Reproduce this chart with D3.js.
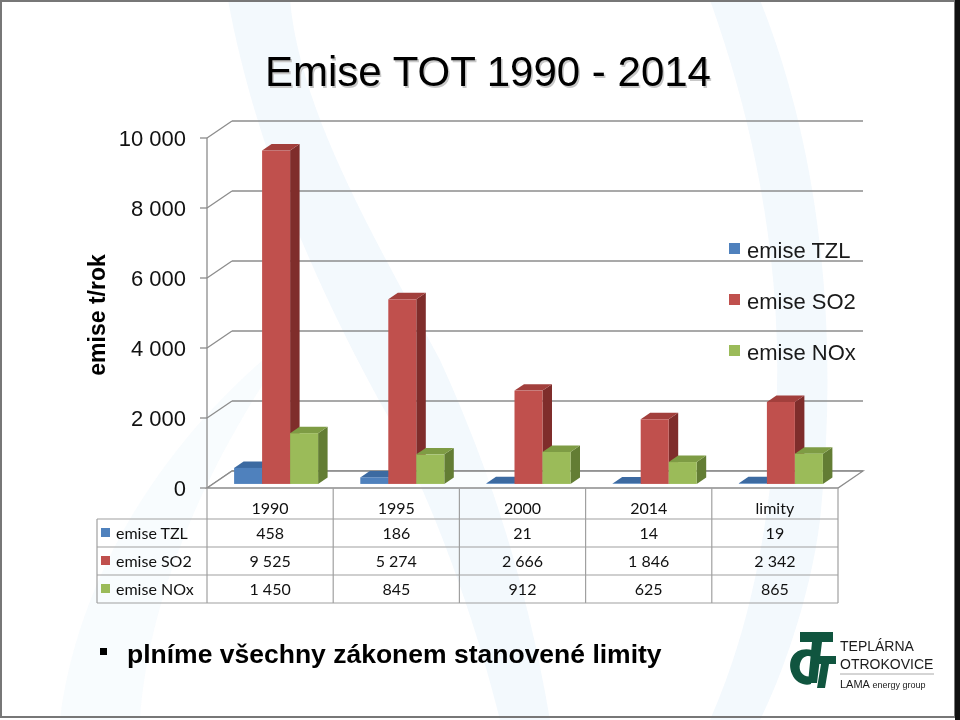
<!DOCTYPE html>
<html>
<head>
<meta charset="utf-8">
<script src="https://cdn.jsdelivr.net/npm/d3@7"></script>
<style>
  body { margin: 0; background: #fff; }
  svg { display: block; }
</style>
</head>
<body>
<div id="chart"></div>
<script>
// data
const categories = ['1990', '1995', '2000', '2014', 'limity'];
const seriesNames = ['emise TZL', 'emise SO2', 'emise NOx'];
const tzl = [458, 186, 21, 14, 19];
const so2 = [9525, 5274, 2666, 1846, 2342];
const nox = [1450, 845, 912, 625, 865];
const yTicks = [0, 2000, 4000, 6000, 8000, 10000];

const seriesValues = [tzl, so2, nox];
const faceColors = ['#4f81bd', '#c0504d', '#9bbb59'];
const topColors = ['#3c6aa1', '#a23f3c', '#7e9c44'];
const sideColors = ['#2f5582', '#7f2d2b', '#637d34'];

const W = 960, H = 720;
const svg = d3.select('#chart').append('svg').attr('width', W).attr('height', H);

const fmt = v => d3.format(',')(v).replace(/,/g, ' ');
const font = '"Liberation Sans", Arial, sans-serif';
const tableFont = 'Lato, "Open Sans", sans-serif';

// faint background swooshes
const bg = svg.append('g').attr('fill', '#eef6fc').attr('opacity', 0.7);
bg.append('path').attr('d', 'M228,0 C250,120 300,260 390,420 C430,500 470,600 500,720 L550,720 C530,600 495,480 440,360 C370,230 300,110 290,0 Z');
bg.append('path').attr('d', 'M760,0 C820,150 840,330 820,520 C810,600 780,680 760,720 L710,720 C745,640 762,560 772,470 C790,300 760,140 710,0 Z');
bg.append('path').attr('d', 'M60,720 C80,560 180,420 300,330 C220,440 150,580 140,720 Z').attr('opacity', 0.6);

// slide frame
svg.append('rect').attr('x', 1).attr('y', 1).attr('width', W - 6).attr('height', H - 4)
    .attr('fill', 'none').attr('stroke', '#777').attr('stroke-width', 2);
svg.append('rect').attr('x', 955).attr('y', 0).attr('width', 5).attr('height', H).attr('fill', '#111');

// title
svg.append('text').attr('x', 488).attr('y', 86).attr('text-anchor', 'middle')
    .attr('font-family', font).attr('font-size', 42).attr('fill', '#c8c8c8')
    .attr('transform', 'translate(1.5,1.5)').text('Emise TOT 1990 - 2014');
svg.append('text').attr('x', 488).attr('y', 86).attr('text-anchor', 'middle')
    .attr('font-family', font).attr('font-size', 42).attr('fill', '#000')
    .text('Emise TOT 1990 - 2014');

// 3D geometry
const x0 = 207, x1 = 838;
const DX = 25, DY = -17; // depth offset of back wall
const x = d3.scaleBand().domain(categories).range([x0, x1]);
const y = d3.scaleLinear().domain([0, 10000]).range([488, 138]);

const g = svg.append('g');
const grid = '#8c8c8c';

// back wall gridlines + side wall diagonals
yTicks.forEach(t => {
  const yy = y(t);
  g.append('line').attr('x1', x0).attr('y1', yy).attr('x2', x0 + DX).attr('y2', yy + DY)
      .attr('stroke', grid).attr('stroke-width', 1.3);
  g.append('line').attr('x1', x0 + DX).attr('y1', yy + DY).attr('x2', x1 + DX).attr('y2', yy + DY)
      .attr('stroke', grid).attr('stroke-width', 1.3);
  g.append('line').attr('x1', x0 - 7).attr('y1', yy).attr('x2', x0).attr('y2', yy)
      .attr('stroke', grid).attr('stroke-width', 1.3);
  g.append('text').attr('x', 186).attr('y', yy + 8).attr('text-anchor', 'end')
      .attr('font-family', font).attr('font-size', 22).attr('fill', '#111').text(fmt(t));
});
// front vertical axis
g.append('line').attr('x1', x0).attr('y1', y(10000)).attr('x2', x0).attr('y2', y(0))
    .attr('stroke', grid).attr('stroke-width', 1.3);
// floor
g.append('path')
    .attr('d', `M${x0},${y(0)} L${x1},${y(0)} L${x1 + DX},${y(0) + DY} L${x0 + DX},${y(0) + DY} Z`)
    .attr('fill', 'rgba(255,255,255,0.6)').attr('stroke', grid).attr('stroke-width', 1.3);

// axis title
svg.append('text').attr('transform', 'translate(105,315) rotate(-90)')
    .attr('text-anchor', 'middle').attr('font-family', font).attr('font-size', 23)
    .attr('font-weight', 'bold').attr('fill', '#000').text('emise t/rok');

// bars
const f0 = 0.24, f1 = 0.62; // bar depth position inside floor
const barW = 28;
const bx = d3.scaleBand().domain(d3.range(3)).range([0, barW * 3]);
const bars = [];
categories.forEach((c, ci) => {
  seriesValues.forEach((vals, si) => {
    bars.push({ c, si, v: vals[ci] });
  });
});
const ox = DX * f0, oy = DY * f0;           // front face offset
const ddx = DX * (f1 - f0), ddy = DY * (f1 - f0); // bar depth
bars.forEach(b => {
  const left = x(b.c) + (x.bandwidth() - barW * 3) / 2 + bx(b.si) + ox;
  const right = left + barW;
  const top = y(b.v) + oy, bottom = y(0) + oy;
  const bar = g.append('g');
  bar.append('path')
      .attr('d', `M${right},${bottom} L${right + ddx},${bottom + ddy} L${right + ddx},${top + ddy} L${right},${top} Z`)
      .attr('fill', sideColors[b.si]);
  bar.append('path')
      .attr('d', `M${left},${top} L${left + ddx},${top + ddy} L${right + ddx},${top + ddy} L${right},${top} Z`)
      .attr('fill', topColors[b.si]);
  bar.append('rect').attr('x', left).attr('y', top).attr('width', barW)
      .attr('height', Math.max(0, bottom - top)).attr('fill', faceColors[b.si]);
});

// legend
seriesNames.forEach((n, i) => {
  const ly = [250, 301, 352][i];
  svg.append('rect').attr('x', 729).attr('y', ly - 7).attr('width', 11).attr('height', 11)
      .attr('fill', faceColors[i]);
  svg.append('text').attr('x', 747).attr('y', ly + 8).attr('font-family', font)
      .attr('font-size', 22).attr('fill', '#1a1a1a').text(n);
});

// data table
const tg = svg.append('g').attr('font-family', tableFont).attr('font-size', 16).attr('fill', '#111');
const tLeft = 97, rowH = 28, hdrTop = 488, hdrBot = 519;
const tLine = (a, b, c, d) => tg.append('line').attr('x1', a).attr('y1', b).attr('x2', c).attr('y2', d)
    .attr('stroke', '#a0a0a0').attr('stroke-width', 1.2);
categories.forEach(c => {
  tg.append('text').attr('x', x(c) + x.bandwidth() / 2).attr('y', 514).attr('text-anchor', 'middle').text(c);
});
const tBottom = hdrBot + rowH * 3;
tLine(tLeft, hdrBot, x1, hdrBot);
d3.range(1, 4).forEach(r => tLine(tLeft, hdrBot + rowH * r, x1, hdrBot + rowH * r));
tLine(tLeft, hdrBot, tLeft, tBottom);
categories.forEach(c => tLine(x(c), hdrTop, x(c), tBottom));
tLine(x1, hdrTop, x1, tBottom);
seriesNames.forEach((n, si) => {
  const ry = hdrBot + rowH * si + rowH / 2;
  tg.append('rect').attr('x', 101).attr('y', ry - 5).attr('width', 9).attr('height', 9).attr('fill', faceColors[si]);
  tg.append('text').attr('x', 116).attr('y', ry + 6).text(n);
  categories.forEach((c, ci) => {
    tg.append('text').attr('x', x(c) + x.bandwidth() / 2).attr('y', ry + 6)
        .attr('text-anchor', 'middle').text(fmt(seriesValues[si][ci]));
  });
});

// bullet text
svg.append('rect').attr('x', 100).attr('y', 648).attr('width', 7).attr('height', 7).attr('fill', '#000');
svg.append('text').attr('x', 127).attr('y', 663).attr('font-family', font).attr('font-size', 26.5)
    .attr('font-weight', 'bold').attr('fill', '#000').text('plníme všechny zákonem stanovené limity');

// logo
const logo = svg.append('g').attr('fill', '#10553f');
logo.append('path').attr('d', 'M800,632 L833,632 L833,642 L822,642 L817,683 L808,683 L812,642 L800,642 Z');
logo.append('path').attr('d', 'M812,650 C795,646 786,660 792,674 C796,684 806,686 811,684 L812,676 C804,678 798,672 800,664 C802,656 808,655 812,657 Z');
logo.append('path').attr('d', 'M818,656 L836,656 L836,664 L829,664 L825,688 L817,688 L821,664 L816,664 Z');
const lt = svg.append('g').attr('font-family', '"Liberation Sans Narrow", "Liberation Sans", sans-serif').attr('fill', '#1b1b1b');
lt.append('text').attr('x', 840).attr('y', 651).attr('font-size', 14).text('TEPLÁRNA');
lt.append('text').attr('x', 840).attr('y', 669).attr('font-size', 14).text('OTROKOVICE');
svg.append('line').attr('x1', 840).attr('y1', 674).attr('x2', 934).attr('y2', 674).attr('stroke', '#aaa').attr('stroke-width', 1);
lt.append('text').attr('x', 840).attr('y', 688).attr('font-size', 11).text('LAMA').append('tspan').attr('font-size', 9).text(' energy group');
</script>
</body>
</html>
